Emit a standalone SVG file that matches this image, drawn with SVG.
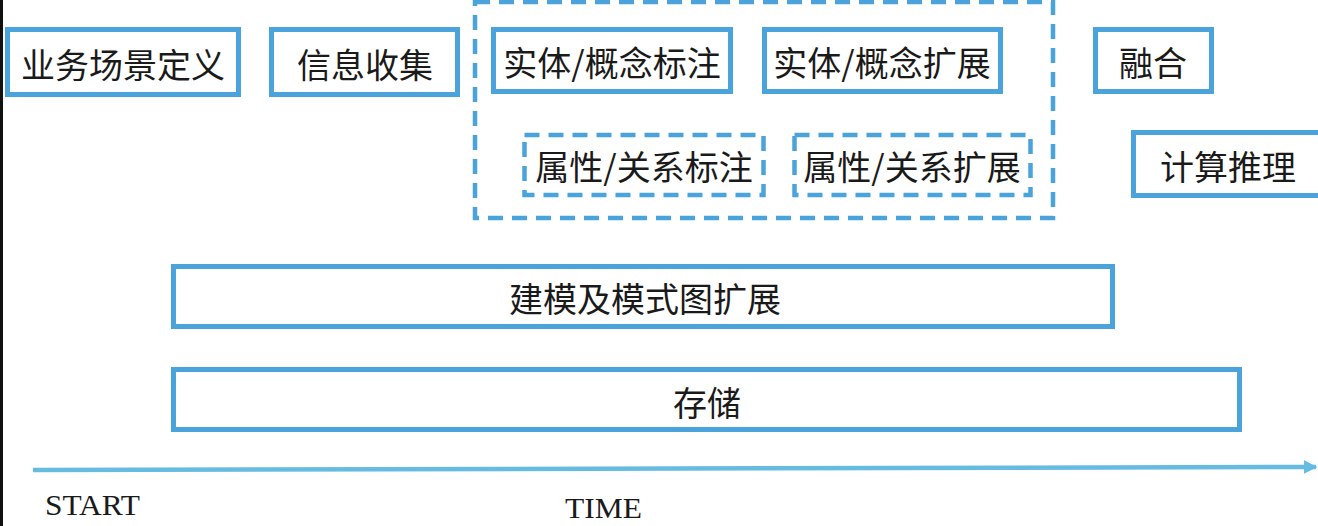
<svg xmlns="http://www.w3.org/2000/svg" width="1318" height="526" viewBox="0 0 1318 526">
<defs>
<style>
.box{fill:#ffffff;stroke:#4aa3da;stroke-width:5}
.dash{fill:none;stroke:#4aa3da;stroke-width:4.5;stroke-dasharray:15 9}
.t{font-family:"Noto Sans CJK SC","Noto Sans",sans-serif;font-size:34px;fill:#1a1a1a;text-anchor:middle;dominant-baseline:central}
.lab{font-family:"Liberation Serif",serif;font-size:30px;fill:#1a1a1a}
.axis{stroke:#66bbe0;stroke-width:4.5;fill:none}
</style>
<marker id="arr" viewBox="0 0 10 10" refX="9" refY="5" markerWidth="3" markerHeight="3" orient="auto" markerUnits="strokeWidth">
<path d="M0,0 L10,5 L0,10 z" fill="#66bbe0"/>
</marker>
</defs>
<rect x="0" y="0" width="1318" height="526" fill="#ffffff"/>
<rect x="0" y="0" width="3" height="526" fill="#111111"/>
<g id="group-annotation">
<rect class="dash" x="475" y="2" width="578" height="216"/>
</g>
<g id="n-scene">
<rect class="box" x="7.5" y="29.5" width="231" height="65"/>
<text class="t" x="123" y="63">业务场景定义</text>
</g>
<g id="n-collect">
<rect class="box" x="271.5" y="29.5" width="186" height="65"/>
<text class="t" x="365" y="63">信息收集</text>
</g>
<g id="n-entity-label">
<rect class="box" x="493.5" y="29.5" width="237" height="62"/>
<text class="t" x="612" y="61">实体/概念标注</text>
</g>
<g id="n-entity-ext">
<rect class="box" x="764.5" y="29.5" width="236" height="62"/>
<text class="t" x="882" y="61">实体/概念扩展</text>
</g>
<g id="n-attr-label">
<rect class="dash" x="524.5" y="135" width="239" height="60"/>
<text class="t" x="644" y="165">属性/关系标注</text>
</g>
<g id="n-attr-ext">
<rect class="dash" x="794.5" y="135" width="236" height="60"/>
<text class="t" x="912" y="165">属性/关系扩展</text>
</g>
<g id="n-fusion">
<rect class="box" x="1095.5" y="29.5" width="116" height="62"/>
<text class="t" x="1153" y="61">融合</text>
</g>
<g id="n-reason">
<rect class="box" x="1133.5" y="132.5" width="190" height="63"/>
<text class="t" x="1228" y="165">计算推理</text>
</g>
<g id="n-model">
<rect class="box" x="173.5" y="266.5" width="939" height="60"/>
<text class="t" x="645" y="297">建模及模式图扩展</text>
</g>
<g id="n-store">
<rect class="box" x="173.5" y="369.5" width="1066" height="60"/>
<text class="t" x="707" y="401">存储</text>
</g>
<g id="connectors">
<line class="axis" x1="33" y1="470" x2="1316" y2="467" marker-end="url(#arr)"/>
</g>
<g id="labels">
<text class="lab" x="45" y="515" textLength="95" lengthAdjust="spacingAndGlyphs">START</text>
<text class="lab" x="565" y="518" textLength="77" lengthAdjust="spacingAndGlyphs">TIME</text>
</g>
</svg>
